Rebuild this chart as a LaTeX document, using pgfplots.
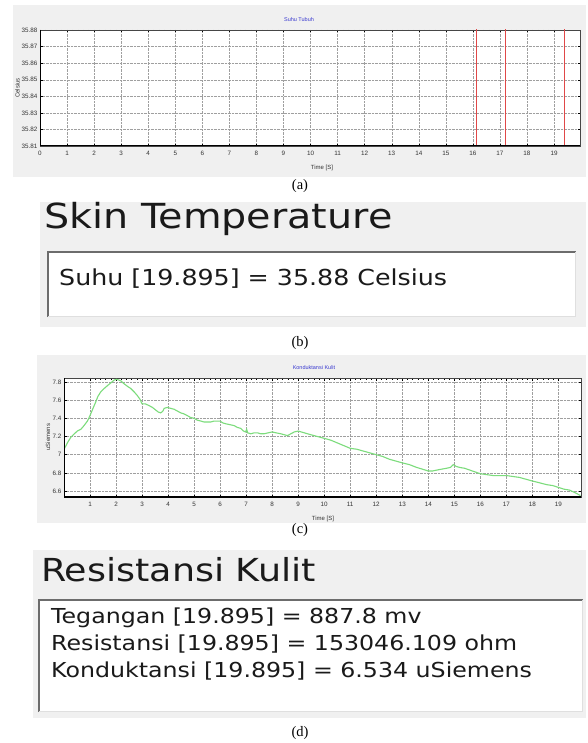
\documentclass[border=0pt]{standalone}
\usepackage{pgfplots}
\pgfplotsset{compat=1.18}
\usepackage{fontspec}
\setmainfont{Liberation Serif}
\newfontfamily\winfont{DejaVu Sans}[FakeStretch=1.15]
\newfontfamily\axfont{Liberation Sans}
\definecolor{panelbg}{HTML}{F0F0F0}
\definecolor{wintext}{HTML}{1A1A1A}
\definecolor{titleblue}{HTML}{3A3AD0}
\definecolor{curvegreen}{HTML}{7CDC7C}
\definecolor{spikered}{HTML}{E04848}
\pgfplotsset{
  scopeplot/.style={
    anchor=south west, scale only axis,
    grid=major, major grid style={densely dotted, gray!75},
    axis line style={draw=gray!55!black, line width=0.8pt},
    tick style={black, line width=0.4pt},
    tick align=inside,
    major tick length=2.5pt, minor tick length=1.5pt,
    tick label style={font=\axfont\fontsize{6.3}{7}\selectfont, text=black!80},
    /pgf/number format/assume math mode=true,
    xticklabel style={yshift=-2pt},
    yticklabel style={xshift=1pt},
    axis background/.style={fill=white},
  }
}
\begin{document}
\begin{tikzpicture}
\begin{scope}[x=1pt,y=-1pt]
\useasboundingbox (0,0) rectangle (587,743);
\fill[white] (0,0) rectangle (587,743);
% panel backgrounds
\fill[panelbg] (13,5) rectangle (586,177);
\fill[panelbg] (40,202) rectangle (586,327);
\fill[panelbg] (37,355) rectangle (586,523);
\fill[panelbg] (33,550) rectangle (586,718);
% text boxes
\fill[white] (47,251) rectangle (576,317);
\draw[gray!85!black, line width=2pt] (48,317) -- (48,252) -- (576,252);
\draw[gray!25, line width=1.5pt] (48,316.3) -- (575.3,316.3) -- (575.3,252);
\fill[white] (38,599) rectangle (583,712);
\draw[gray!85!black, line width=2pt] (39,712) -- (39,600) -- (583,600);
\draw[gray!25, line width=1.5pt] (39,711.3) -- (582.3,711.3) -- (582.3,600);
\end{scope}

% ---------- (a) Suhu Tubuh ----------
\begin{axis}[scopeplot,
  at={(40pt,-146pt)}, width=540pt, height=116pt,
  xmin=0, xmax=19.96, ymin=35.81, ymax=35.88,
  xtick={0,1,2,3,4,5,6,7,8,9,10,11,12,13,14,15,16,17,18,19},
  xticklabels={0,1,2,3,4,5,6,7,8,9,10,11,12,13,14,15,16,17,18,19},
  ytick={35.81,35.82,35.83,35.84,35.85,35.86,35.87,35.88},
  yticklabels={35.81,35.82,35.83,35.84,35.85,35.86,35.87,35.88},
  minor x tick num=4,
]
\addplot[spikered, line width=1pt] coordinates {(16.12,35.80) (16.12,35.89)};
\addplot[spikered, line width=1pt] coordinates {(17.19,35.80) (17.19,35.89)};
\addplot[spikered, line width=1pt] coordinates {(19.37,35.80) (19.37,35.89)};
\draw[black, line width=1.4pt] (rel axis cs:0,1) -- (rel axis cs:0,0) -- (rel axis cs:1,0);
\end{axis}

% ---------- (c) Konduktansi Kulit ----------
\begin{axis}[scopeplot,
  at={(64pt,-497pt)}, width=517pt, height=119pt,
  xmin=0, xmax=19.87, ymin=6.534, ymax=7.844,
  xtick={1,2,3,4,5,6,7,8,9,10,11,12,13,14,15,16,17,18,19},
  xticklabels={1,2,3,4,5,6,7,8,9,10,11,12,13,14,15,16,17,18,19},
  ytick={6.6,6.8,7.0,7.2,7.4,7.6,7.8},
  yticklabels={6.6,6.8,7,7.2,7.4,7.6,7.8},
  minor x tick num=4,
]
\addplot[curvegreen, line width=1.1pt] coordinates {
(0.00,7.06)(0.04,7.08)(0.15,7.14)(0.26,7.19)(0.40,7.23)(0.51,7.26)(0.65,7.28)(0.77,7.32)(0.90,7.37)(1.0,7.43)(1.10,7.50)(1.22,7.58)(1.30,7.64)(1.41,7.69)(1.55,7.73)(1.67,7.76)(1.80,7.79)(1.92,7.82)(2.02,7.83)(2.12,7.82)(2.20,7.81)(2.31,7.78)(2.45,7.75)(2.56,7.73)(2.70,7.69)(2.82,7.65)(2.92,7.61)(3.0,7.56)(3.12,7.56)(3.27,7.54)(3.40,7.52)(3.53,7.49)(3.62,7.47)(3.72,7.46)(3.80,7.48)(3.85,7.51)(3.97,7.52)(4.10,7.51)(4.23,7.50)(4.36,7.48)(4.49,7.46)(4.60,7.45)(4.74,7.43)(4.86,7.41)(5.0,7.40)(5.12,7.38)(5.26,7.37)(5.38,7.36)(5.51,7.36)(5.64,7.36)(5.77,7.37)(5.88,7.37)(6.0,7.37)(6.10,7.35)(6.22,7.34)(6.38,7.33)(6.54,7.32)(6.66,7.30)(6.79,7.29)(6.90,7.26)(6.98,7.25)(7.02,7.28)(7.06,7.24)(7.18,7.23)(7.30,7.24)(7.44,7.24)(7.56,7.23)(7.69,7.23)(7.84,7.24)(8.0,7.25)(8.16,7.24)(8.33,7.23)(8.46,7.22)(8.59,7.21)(8.72,7.23)(8.85,7.25)(9.0,7.26)(9.24,7.24)(9.48,7.22)(9.74,7.20)(10.0,7.18)(10.25,7.16)(10.5,7.13)(10.75,7.10)(11.0,7.07)(11.25,7.06)(11.5,7.04)(11.75,7.02)(12.0,7.00)(12.25,6.98)(12.5,6.95)(12.75,6.93)(13.0,6.91)(13.28,6.89)(13.55,6.86)(13.78,6.84)(14.0,6.82)(14.16,6.82)(14.32,6.83)(14.5,6.84)(14.7,6.85)(14.85,6.86)(14.96,6.89)(15.08,6.87)(15.2,6.86)(15.4,6.85)(15.6,6.83)(15.8,6.81)(16.0,6.79)(16.25,6.78)(16.5,6.77)(16.75,6.77)(17.0,6.77)(17.25,6.76)(17.5,6.75)(17.75,6.73)(18.0,6.71)(18.28,6.69)(18.55,6.67)(18.78,6.66)(19.0,6.64)(19.22,6.62)(19.43,6.61)(19.65,6.58)(19.85,6.55)};
\draw[black, line width=1.4pt] (rel axis cs:0,1) -- (rel axis cs:0,0) -- (rel axis cs:1,0);
\end{axis}

\begin{scope}[x=1pt,y=-1pt]
% axis titles and labels
\node[font=\axfont\fontsize{5.5}{6}\selectfont, text=titleblue] at (299,20) {Suhu Tubuh};
\node[font=\axfont\fontsize{6}{7}\selectfont, text=black!80] at (322,168) {Time [S]};
\node[font=\axfont\fontsize{6}{7}\selectfont, text=black!80, rotate=90] at (17.5,88) {Celsius};
\node[font=\axfont\fontsize{5.5}{6}\selectfont, text=titleblue] at (314,368) {Konduktansi Kulit};
\node[font=\axfont\fontsize{6}{7}\selectfont, text=black!80] at (323,519) {Time [S]};
\node[font=\axfont\fontsize{6}{7}\selectfont, text=black!80, rotate=90] at (48,437) {uSiemens};
% panel texts
\node[anchor=base west, inner sep=0pt, text=wintext, font=\winfont\fontsize{34.5}{38}\selectfont] at (44,229) {Skin Temperature};
\node[anchor=base west, inner sep=0pt, text=wintext, font=\winfont\fontsize{22}{25}\selectfont] at (59,285) {Suhu [19.895] = 35.88 Celsius};
\node[anchor=base west, inner sep=0pt, text=wintext, font=\winfont\fontsize{31.7}{36}\selectfont] at (41,581) {Resistansi Kulit};
\node[anchor=base west, inner sep=0pt, text=wintext, font=\winfont\fontsize{20.6}{24}\selectfont] at (51,623) {Tegangan [19.895] = 887.8 mv};
\node[anchor=base west, inner sep=0pt, text=wintext, font=\winfont\fontsize{20.6}{24}\selectfont] at (51,650) {Resistansi [19.895] = 153046.109 ohm};
\node[anchor=base west, inner sep=0pt, text=wintext, font=\winfont\fontsize{20.6}{24}\selectfont] at (51,677) {Konduktansi [19.895] = 6.534 uSiemens};
% captions
\node[font=\fontsize{14.5}{16}\selectfont] at (300,186) {(a)};
\node[font=\fontsize{14.5}{16}\selectfont] at (300,343) {(b)};
\node[font=\fontsize{14.5}{16}\selectfont] at (300,530) {(c)};
\node[font=\fontsize{14.5}{16}\selectfont] at (300,733) {(d)};
\end{scope}
\end{tikzpicture}
\end{document}
